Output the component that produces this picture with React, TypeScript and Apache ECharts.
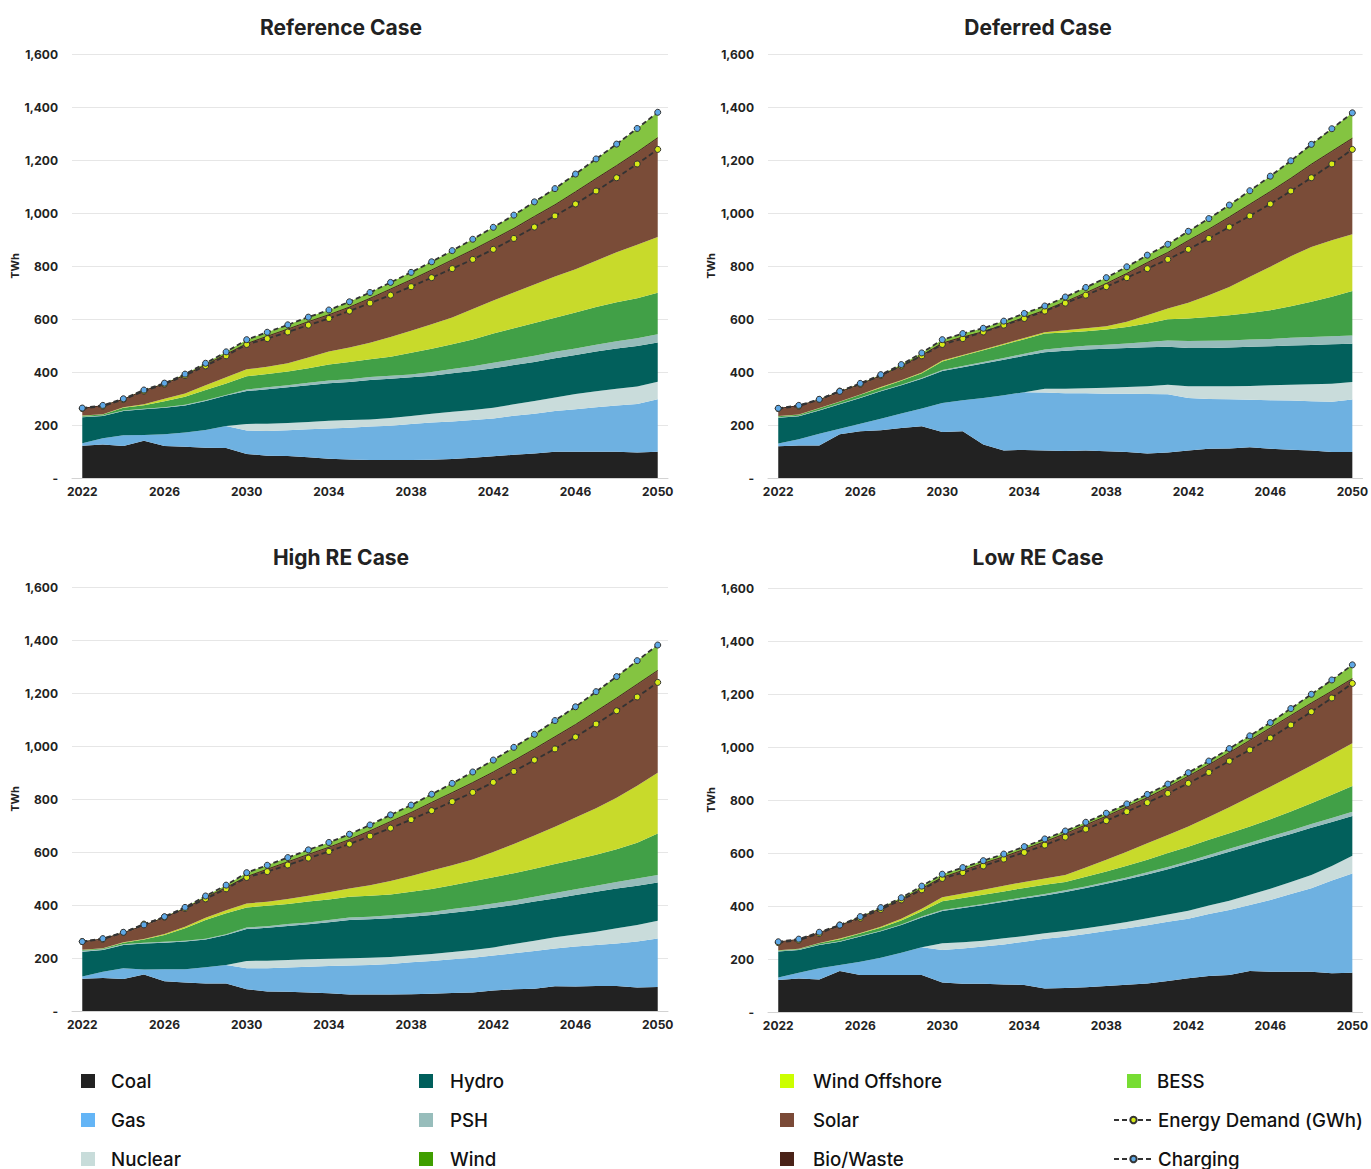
import React, { useEffect, useRef } from "react";
import * as echarts from "echarts";

// Years on the category axis
const years = [
  "2022", "2023", "2024", "2025", "2026", "2027", "2028", "2029", "2030", "2031",
  "2032", "2033", "2034", "2035", "2036", "2037", "2038", "2039", "2040", "2041",
  "2042", "2043", "2044", "2045", "2046", "2047", "2048", "2049", "2050",
];

// Energy demand is the same in every case
const energyDemand = [262, 271, 296, 328, 354, 387, 423, 461, 504, 526, 551, 577, 602, 630, 660, 690, 722, 756, 790, 825, 863, 904, 947, 989, 1034, 1083, 1133, 1185, 1240];

// ---- Reference Case (TWh) ----
const refCoal = [122, 126, 121, 141, 121, 118, 114, 113, 91, 84, 83, 78, 73, 70, 68, 68, 68, 69, 72, 76, 82, 88, 92, 99, 99, 99, 99, 96, 99];
const refGas = [9, 24, 40, 21, 44, 54, 67, 83, 88, 93, 97, 106, 114, 120, 126, 129, 136, 140, 141, 143, 143, 147, 150, 154, 160, 168, 175, 183, 198];
const refNuclear = [0, 0, 0, 0, 0, 0, 0, 0, 25, 28, 28, 27, 29, 29, 27, 29, 30, 33, 37, 38, 40, 43, 49, 51, 58, 60, 63, 66, 66];
const refHydro = [98, 84, 92, 97, 100, 102, 110, 115, 124, 130, 134, 139, 142, 143, 149, 149, 146, 144, 145, 147, 149, 148, 147, 148, 147, 150, 152, 153, 148];
const refPsh = [2, 2, 2, 2, 2, 2, 2, 2, 6, 7, 8, 9, 10, 11, 11, 11, 11, 14, 16, 18, 21, 22, 23, 24, 25, 26, 27, 29, 31];
const refWind = [4, 4, 10, 14, 23, 31, 39, 44, 50, 50, 52, 55, 60, 65, 67, 72, 82, 88, 94, 101, 110, 117, 124, 129, 136, 142, 147, 151, 157];
const refWindOffshore = [1, 1, 2, 3, 9, 12, 18, 23, 26, 28, 31, 41, 49, 54, 62, 74, 83, 92, 101, 115, 125, 135, 145, 155, 163, 175, 189, 202, 210];
const refSolar = [25, 30, 28, 50, 54, 67, 75, 85, 95, 113, 127, 133, 137, 151, 166, 179, 190, 203, 215, 221, 229, 240, 255, 269, 290, 308, 325, 348, 373];
const refBio = [2, 2, 2, 2, 2, 2, 2, 2, 2, 2, 2, 2, 2, 2, 2, 2, 2, 2, 2, 2, 2, 2, 2, 2, 2, 2, 2, 2, 2];
const refBess = [1, 1, 2, 2, 3, 4, 6, 9, 15, 15, 16, 17, 18, 20, 22, 25, 28, 31, 35, 40, 45, 50, 55, 61, 67, 74, 81, 89, 96];
const refCharging = [264, 274, 299, 332, 358, 392, 433, 476, 522, 550, 578, 607, 634, 665, 700, 738, 776, 816, 858, 901, 946, 992, 1042, 1092, 1147, 1204, 1260, 1319, 1380];

// ---- Deferred Case (TWh) ----
const defCoal = [120, 123, 123, 165, 176, 180, 189, 195, 174, 176, 126, 104, 106, 104, 102, 104, 101, 98, 92, 96, 104, 110, 111, 116, 110, 107, 104, 98, 98];
const defGas = [10, 23, 44, 21, 29, 44, 54, 67, 109, 117, 176, 208, 218, 219, 218, 216, 217, 220, 225, 220, 198, 188, 186, 179, 183, 185, 186, 190, 198];
const defNuclear = [0, 0, 0, 0, 0, 0, 0, 0, 0, 0, 0, 0, 0, 14, 17, 19, 23, 25, 29, 36, 44, 48, 49, 52, 57, 60, 64, 68, 66];
const defHydro = [97, 87, 88, 92, 97, 103, 107, 113, 121, 125, 130, 134, 137, 138, 143, 146, 147, 148, 147, 143, 145, 145, 146, 148, 147, 148, 148, 149, 145];
const defPsh = [2, 2, 2, 2, 2, 2, 2, 2, 4, 5, 6, 7, 8, 10, 12, 14, 15, 17, 20, 24, 26, 27, 27, 28, 28, 29, 30, 30, 31];
const defWind = [4, 4, 6, 8, 10, 12, 15, 18, 32, 38, 44, 50, 55, 60, 57, 55, 57, 62, 70, 80, 85, 90, 95, 100, 108, 119, 133, 149, 168];
const defWindOffshore = [1, 1, 1, 1, 1, 2, 2, 3, 3, 3, 3, 4, 4, 5, 9, 11, 13, 20, 31, 41, 59, 82, 107, 136, 164, 189, 207, 213, 214];
const defSolar = [26, 31, 29, 34, 37, 41, 51, 63, 64, 66, 65, 69, 76, 81, 105, 132, 159, 180, 197, 209, 233, 247, 262, 272, 282, 292, 310, 334, 360];
const defBio = [2, 2, 2, 2, 2, 2, 2, 2, 2, 2, 2, 2, 2, 2, 2, 2, 2, 2, 2, 2, 2, 2, 2, 2, 2, 2, 2, 2, 2];
const defBess = [1, 1, 2, 2, 3, 4, 6, 9, 13, 13, 13, 14, 15, 16, 18, 20, 22, 25, 28, 31, 35, 40, 45, 51, 58, 66, 75, 85, 96];
const defCharging = [263, 274, 297, 327, 357, 390, 428, 472, 522, 545, 565, 592, 621, 649, 683, 719, 756, 797, 841, 882, 931, 979, 1030, 1084, 1139, 1197, 1259, 1318, 1378];

// ---- High RE Case (TWh) ----
const hreCoal = [122, 125, 121, 138, 112, 108, 104, 104, 82, 74, 73, 70, 67, 62, 62, 62, 63, 65, 68, 70, 77, 82, 84, 93, 92, 94, 94, 89, 91];
const hreGas = [8, 23, 40, 19, 46, 50, 61, 70, 79, 87, 91, 97, 103, 110, 112, 115, 121, 124, 127, 131, 132, 136, 142, 143, 151, 155, 161, 173, 183];
const hreNuclear = [0, 0, 0, 0, 0, 0, 0, 0, 28, 29, 28, 28, 27, 27, 27, 27, 25, 26, 28, 29, 31, 35, 39, 42, 46, 50, 57, 63, 67];
const hreHydro = [94, 82, 88, 98, 100, 104, 105, 113, 120, 124, 129, 132, 138, 144, 145, 146, 147, 147, 148, 149, 150, 147, 148, 147, 149, 151, 150, 148, 144];
const hrePsh = [3, 3, 3, 3, 3, 3, 3, 3, 6, 6, 7, 7, 8, 10, 10, 11, 11, 12, 14, 15, 16, 17, 18, 20, 21, 23, 25, 27, 28];
const hreWind = [3, 3, 6, 12, 26, 47, 70, 79, 76, 77, 76, 79, 78, 78, 79, 79, 83, 86, 90, 96, 99, 103, 106, 110, 113, 117, 123, 135, 157];
const hreWindOffshore = [1, 1, 1, 2, 4, 6, 9, 11, 15, 15, 19, 22, 27, 31, 40, 51, 59, 70, 75, 82, 95, 110, 125, 140, 158, 175, 195, 215, 229];
const hreSolar = [28, 33, 34, 49, 60, 67, 74, 84, 99, 121, 138, 154, 168, 183, 203, 222, 238, 255, 272, 288, 300, 313, 325, 338, 349, 364, 374, 381, 384];
const hreBio = [2, 2, 2, 2, 2, 2, 2, 2, 2, 2, 2, 2, 2, 2, 2, 2, 2, 2, 2, 2, 2, 2, 2, 2, 2, 2, 2, 2, 2];
const hreBess = [1, 1, 2, 2, 3, 4, 6, 9, 15, 15, 16, 17, 18, 20, 22, 25, 28, 31, 35, 40, 45, 50, 55, 61, 67, 74, 81, 89, 96];
const hreCharging = [262, 273, 297, 325, 356, 391, 434, 475, 522, 550, 579, 608, 636, 667, 702, 740, 777, 818, 859, 902, 947, 995, 1044, 1096, 1148, 1205, 1262, 1322, 1381];

// ---- Low RE Case (TWh) ----
const lreCoal = [121, 126, 123, 155, 140, 140, 140, 140, 111, 107, 107, 104, 102, 89, 91, 93, 98, 103, 108, 117, 127, 136, 140, 155, 152, 152, 152, 146, 148];
const lreGas = [9, 22, 42, 22, 50, 65, 84, 104, 123, 133, 140, 151, 163, 187, 193, 201, 208, 213, 219, 224, 225, 234, 245, 249, 271, 293, 315, 350, 375];
const lreNuclear = [0, 0, 0, 0, 0, 0, 0, 0, 25, 23, 22, 23, 22, 21, 22, 22, 21, 24, 27, 27, 30, 32, 35, 38, 42, 46, 50, 55, 67];
const lreHydro = [98, 86, 88, 88, 95, 100, 104, 113, 122, 129, 135, 138, 141, 143, 147, 152, 157, 161, 165, 171, 178, 180, 185, 185, 185, 181, 178, 166, 150];
const lrePsh = [2, 2, 2, 2, 2, 2, 2, 3, 4, 4, 4, 5, 5, 5, 6, 6, 7, 7, 8, 8, 9, 10, 11, 12, 12, 13, 14, 15, 16];
const lreWind = [2, 2, 4, 8, 9, 11, 15, 20, 33, 34, 34, 34, 35, 35, 32, 36, 39, 44, 48, 53, 55, 58, 59, 61, 65, 72, 79, 88, 97];
const lreWindOffshore = [1, 1, 1, 2, 2, 4, 7, 10, 15, 17, 19, 21, 23, 24, 26, 35, 45, 53, 62, 68, 76, 86, 98, 111, 123, 133, 142, 152, 161];
const lreSolar = [29, 33, 37, 47, 57, 66, 71, 74, 73, 85, 98, 108, 121, 137, 154, 159, 162, 167, 170, 178, 188, 195, 204, 212, 220, 227, 234, 237, 242];
const lreBio = [2, 2, 2, 2, 2, 2, 2, 2, 2, 2, 2, 2, 2, 2, 2, 2, 2, 2, 2, 2, 2, 2, 2, 2, 2, 2, 2, 2, 2];
const lreBess = [1, 1, 2, 2, 3, 4, 6, 9, 12, 11, 10, 10, 10, 10, 10, 10, 11, 11, 12, 12, 13, 14, 15, 17, 20, 26, 33, 42, 52];
const lreCharging = [265, 275, 301, 328, 360, 394, 431, 475, 520, 545, 571, 596, 624, 653, 683, 716, 750, 785, 821, 860, 903, 947, 994, 1042, 1092, 1145, 1199, 1253, 1310];

const FONT = "Inter, 'Liberation Sans', Arial, sans-serif";

// Generation sources in stacking order (bottom to top)
const sources = [
  { name: "Coal", color: "#222222", legendColor: "#222222" },
  { name: "Gas", color: "#6eb1e1", legendColor: "#64b5f6" },
  { name: "Nuclear", color: "#c9dcdb", legendColor: "#c8dcda" },
  { name: "Hydro", color: "#02605c", legendColor: "#005f5c" },
  { name: "PSH", color: "#97bcba", legendColor: "#97bdbb" },
  { name: "Wind", color: "#41a047", legendColor: "#409e00" },
  { name: "Wind Offshore", color: "#c8da2b", legendColor: "#ccff00" },
  { name: "Solar", color: "#7a4c38", legendColor: "#7a4a37" },
  { name: "Bio/Waste", color: "#4a2519", legendColor: "#4a2318" },
  { name: "BESS", color: "#84c441", legendColor: "#77dd33" },
];

const DEMAND = "Energy Demand (GWh)";
const CHARGING = "Charging";

const panels = [
  {
    title: "Reference Case",
    stack: [refCoal, refGas, refNuclear, refHydro, refPsh, refWind, refWindOffshore, refSolar, refBio, refBess],
    charging: refCharging,
    grid: { left: 72, top: 54, width: 596, height: 424 },
    titlePos: [341, 27],
    yearlyTicks: true,
  },
  {
    title: "Deferred Case",
    stack: [defCoal, defGas, defNuclear, defHydro, defPsh, defWind, defWindOffshore, defSolar, defBio, defBess],
    charging: defCharging,
    grid: { left: 768, top: 54, width: 597, height: 424 },
    titlePos: [1038, 27],
    yearlyTicks: false,
  },
  {
    title: "High RE Case",
    stack: [hreCoal, hreGas, hreNuclear, hreHydro, hrePsh, hreWind, hreWindOffshore, hreSolar, hreBio, hreBess],
    charging: hreCharging,
    grid: { left: 72, top: 587, width: 596, height: 424 },
    titlePos: [341, 557],
    yearlyTicks: false,
  },
  {
    title: "Low RE Case",
    stack: [lreCoal, lreGas, lreNuclear, lreHydro, lrePsh, lreWind, lreWindOffshore, lreSolar, lreBio, lreBess],
    charging: lreCharging,
    grid: { left: 768, top: 588, width: 597, height: 424 },
    titlePos: [1038, 557],
    yearlyTicks: false,
  },
];

// Legend layout: four columns, three rows
const legendRows = [1081, 1120, 1159];
const legendCells = [
  { name: "Coal", left: 81, row: 0, width: 25 },
  { name: "Gas", left: 81, row: 1, width: 25 },
  { name: "Nuclear", left: 81, row: 2, width: 25 },
  { name: "Hydro", left: 419, row: 0, width: 26 },
  { name: "PSH", left: 419, row: 1, width: 26 },
  { name: "Wind", left: 419, row: 2, width: 26 },
  { name: "Wind Offshore", left: 780, row: 0, width: 28 },
  { name: "Solar", left: 780, row: 1, width: 28 },
  { name: "Bio/Waste", left: 780, row: 2, width: 28 },
  { name: "BESS", left: 1127, row: 0, width: 25 },
  { name: DEMAND, left: 1113, row: 1, width: 39 },
  { name: CHARGING, left: 1113, row: 2, width: 39 },
];

const squareIcon = (w: number) =>
  `path://M0 0H14V14H0Z M${w - 0.1} 13.9H${w}V14H${w - 0.1}Z`;

function buildOption() {
  const series: any[] = [];
  const xAxis: any[] = [];
  const yAxis: any[] = [];
  const grid: any[] = [];
  const graphic: any[] = [];

  panels.forEach((p, i) => {
    grid.push({ ...p.grid, containLabel: false });
    xAxis.push({
      type: "category",
      gridIndex: i,
      data: years,
      boundaryGap: true,
      axisLine: { lineStyle: { color: "#d3d3d3", width: 1 } },
      axisTick: { interval: p.yearlyTicks ? 0 : 3, length: 4, lineStyle: { color: "#cfcfcf" } },
      axisLabel: {
        interval: 3,
        fontSize: 12,
        fontWeight: "bold",
        color: "#222",
        margin: 7,
        fontFamily: FONT,
      },
      splitLine: { show: false },
    });
    yAxis.push({
      type: "value",
      gridIndex: i,
      min: 0,
      max: 1600,
      interval: 200,
      name: "TWh",
      nameLocation: "middle",
      nameGap: 50,
      nameTextStyle: { fontSize: 11, fontWeight: "bold", color: "#222", fontFamily: FONT },
      axisLine: { show: false },
      axisTick: { show: false },
      axisLabel: {
        fontSize: 12,
        fontWeight: "bold",
        color: "#222",
        margin: 14,
        fontFamily: FONT,
        formatter: (v: number) => (v === 0 ? "-" : v.toLocaleString("en-US")),
      },
      splitLine: { lineStyle: { color: "#e6e6e6", width: 1 } },
    });

    sources.forEach((s, k) => {
      const isBio = s.name === "Bio/Waste";
      series.push({
        type: "line",
        name: s.name,
        xAxisIndex: i,
        yAxisIndex: i,
        stack: `gen${i}`,
        data: p.stack[k],
        symbol: "none",
        showSymbol: false,
        lineStyle: isBio ? { width: 1, color: s.color } : { width: 0 },
        areaStyle: { color: s.color, opacity: 1 },
        itemStyle: { color: s.color },
        emphasis: { disabled: true },
        z: 2,
      });
    });

    series.push({
      type: "line",
      name: DEMAND,
      xAxisIndex: i,
      yAxisIndex: i,
      data: energyDemand,
      symbol: "circle",
      symbolSize: 6,
      itemStyle: { color: "#d6ea16", borderColor: "#333", borderWidth: 1 },
      lineStyle: { color: "#333", width: 1.8, type: [5, 3] },
      emphasis: { disabled: true },
      z: 5,
    });
    series.push({
      type: "line",
      name: CHARGING,
      xAxisIndex: i,
      yAxisIndex: i,
      data: p.charging,
      symbol: "circle",
      symbolSize: 6,
      itemStyle: { color: "#5ea8e6", borderColor: "#333", borderWidth: 1 },
      lineStyle: { color: "#333", width: 1.8, type: [5, 3] },
      emphasis: { disabled: true },
      z: 6,
    });

    graphic.push({
      type: "text",
      x: p.titlePos[0],
      y: p.titlePos[1],
      style: {
        text: p.title,
        fill: "#222",
        font: `bold 21px ${FONT}`,
        textAlign: "center",
        textVerticalAlign: "middle",
      },
    });
  });

  const legend = legendCells.map((c) => {
    const src = sources.find((s) => s.name === c.name);
    const isLine = !src;
    const item: any = { name: c.name };
    if (src) {
      item.icon = squareIcon(c.width);
      item.itemStyle = { color: src.legendColor, borderWidth: 0 };
    }
    return {
      show: true,
      orient: "vertical",
      left: c.left,
      top: legendRows[c.row] - 10,
      padding: 0,
      itemWidth: c.width,
      itemHeight: isLine ? 8 : 14,
      data: [item],
      textStyle: {
        fontSize: 18.7,
        fontWeight: 500,
        color: "#111",
        fontFamily: FONT,
        lineHeight: 20,
      },
    };
  });

  return {
    animation: false,
    backgroundColor: "#ffffff",
    grid,
    xAxis,
    yAxis,
    series,
    legend,
    graphic,
  };
}

export default function App() {
  const ref = useRef<HTMLDivElement>(null);

  useEffect(() => {
    document.body.style.margin = "0";
    document.body.style.overflow = "hidden";
    if (!ref.current) return;
    const chart = echarts.init(ref.current, undefined, { renderer: "svg" });
    chart.setOption(buildOption());
    return () => chart.dispose();
  }, []);

  return <div ref={ref} style={{ width: 1371, height: 1169 }} />;
}
